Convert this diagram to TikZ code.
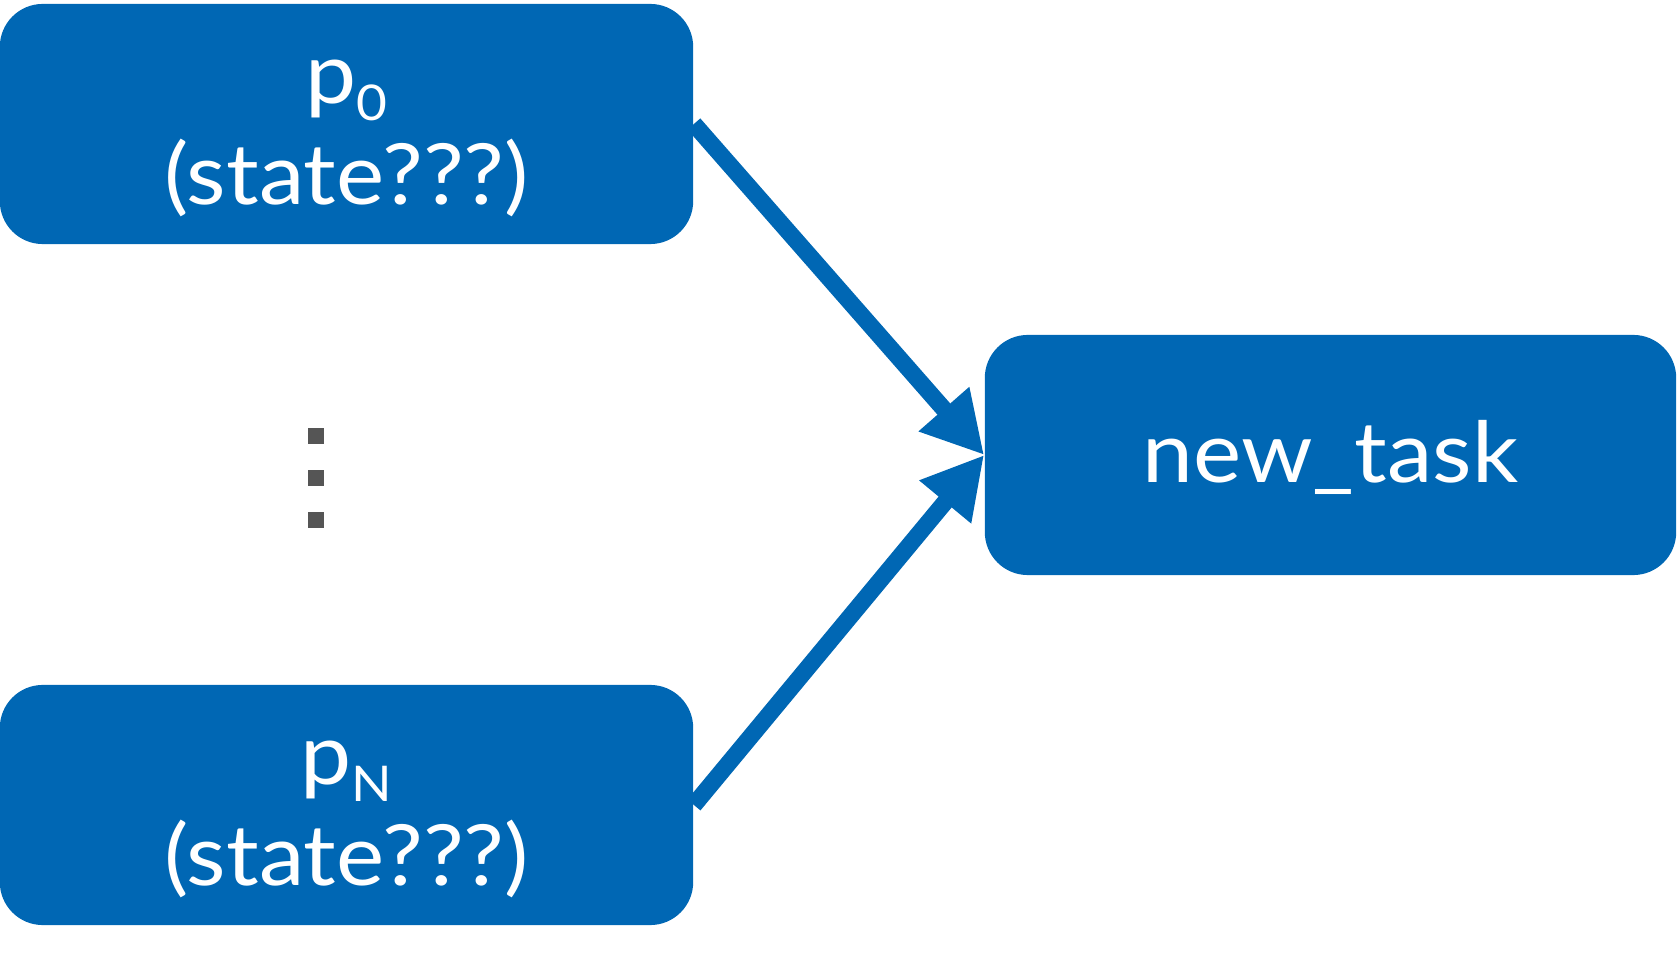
\documentclass[tikz,border=0pt]{standalone}
\usepackage{fontspec}
\setmainfont{Lato}[FakeStretch=1.08]
\usetikzlibrary{arrows.meta}
\definecolor{boxblue}{HTML}{0067B4}
\definecolor{dotgray}{HTML}{555555}
\tikzset{
  procbox/.style={fill=boxblue, rounded corners=0.43cm, minimum width=6.93cm, minimum height=2.4cm, inner sep=0pt, text=white, font=\fontsize{24}{27}\selectfont, align=center},
  flow/.style={draw=boxblue, line width=0.17cm, -{Triangle[length=0.61cm, width=0.63cm]}},
  dotsq/.style={fill=dotgray, minimum size=0.16cm, inner sep=0pt}
}
\newcommand{\sublow}[1]{\raisebox{-4.8pt}{\fontsize{14}{14}\selectfont #1}}
\newcommand{\twoline}[2]{\raisebox{-0.11cm}[\height][\depth]{\begin{tabular}{@{}c@{}}#1\\[0.06cm]#2\end{tabular}}}
\begin{document}
\begin{tikzpicture}[x=0.01cm, y=-0.01cm]
\useasboundingbox (0,0) rectangle (1678,955);
\node[procbox] (p0) at (346.5,124) {\twoline{p\sublow{0}}{(state???)}};
\node[procbox] (pN) at (346.5,805) {\twoline{p\sublow{N}}{(state???)}};
\node[procbox, minimum width=6.91cm] (nt) at (1330.5,455) {\raisebox{-0.02cm}[\height][\depth]{new\_task}};
\node[dotsq] (d1) at (316,436) {};
\node[dotsq] (d2) at (316,478) {};
\node[dotsq] (d3) at (316,520) {};
\draw[flow] (p0.east) -- (nt.west);
\draw[flow] (pN.east) -- (nt.west);
\end{tikzpicture}
\end{document}
